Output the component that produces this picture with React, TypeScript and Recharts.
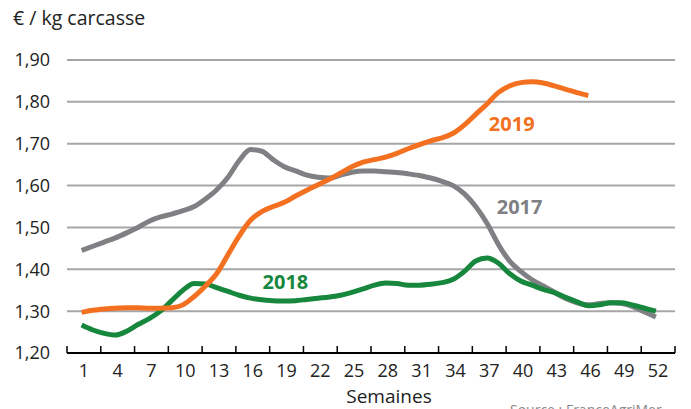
import React from 'react';
import { LineChart, Line, XAxis, YAxis, CartesianGrid, ReferenceDot } from 'recharts';

const weeks: number[] = Array.from({ length: 52 }, (_, i) => i + 1);

const y2017: number[] = [
  1.445, 1.455, 1.465, 1.475, 1.487, 1.5, 1.515, 1.525, 1.532, 1.54,
  1.55, 1.568, 1.59, 1.62, 1.66, 1.686, 1.682, 1.662, 1.645, 1.635,
  1.625, 1.62, 1.618, 1.625, 1.632, 1.635, 1.635, 1.633, 1.631, 1.628,
  1.624, 1.618, 1.61, 1.6, 1.58, 1.55, 1.51, 1.46, 1.42, 1.395,
  1.375, 1.36, 1.345, 1.33, 1.32, 1.315, 1.318, 1.32, 1.318, 1.31,
  1.298, 1.286,
];

const y2018: number[] = [
  1.267, 1.255, 1.247, 1.243, 1.252, 1.268, 1.282, 1.3, 1.325, 1.35,
  1.366, 1.365, 1.356, 1.347, 1.338, 1.331, 1.327, 1.325, 1.324, 1.325,
  1.328, 1.331, 1.334, 1.338, 1.345, 1.353, 1.362, 1.367, 1.366, 1.362,
  1.362, 1.364, 1.368, 1.376, 1.395, 1.42, 1.427, 1.415, 1.39, 1.372,
  1.362, 1.352, 1.344, 1.333, 1.322, 1.313, 1.315, 1.32, 1.32, 1.314,
  1.307, 1.3,
];

const y2019: number[] = [
  1.297, 1.302, 1.305, 1.307, 1.308, 1.308, 1.307, 1.307, 1.308, 1.315,
  1.335, 1.36, 1.39, 1.435, 1.48, 1.517, 1.538, 1.55, 1.56, 1.575,
  1.589, 1.602, 1.615, 1.63, 1.645, 1.656, 1.662, 1.668, 1.677, 1.688,
  1.698, 1.707, 1.714, 1.725, 1.745, 1.77, 1.795, 1.822, 1.838, 1.846,
  1.848, 1.845, 1.838, 1.83, 1.822, 1.815,
];

const yTicks: number[] = [1.2, 1.3, 1.4, 1.5, 1.6, 1.7, 1.8, 1.9];
const weekLabels: number[] = [1, 4, 7, 10, 13, 16, 19, 22, 25, 28, 31, 34, 37, 40, 43, 46, 49, 52];

const X_SHIFT = 1.3;
const X_MIN = -0.3;
const X_MAX = 53.7;
const tickMarks: number[] = [...weekLabels.map((w) => w - X_SHIFT), 52 - X_SHIFT + 3];

const data = weeks.map((w, i) => ({
  week: w,
  a2017: y2017[i],
  a2018: y2018[i],
  a2019: i < y2019.length ? y2019[i] : null,
}));

const FONT = '"Open Sans", sans-serif';
const C2017 = '#7F8083';
const C2018 = '#17873D';
const C2019 = '#F37021';

const W = 691;
const H = 409;
const PLOT_LEFT = 67;
const PLOT_RIGHT = 16;
const HALF = (W - PLOT_LEFT - PLOT_RIGHT) / (X_MAX - X_MIN) * 1.5;

const WeekTick = (props: any) => {
  const { x, y, payload } = props;
  const label = Math.round(payload.value + X_SHIFT);
  return (
    <g>
      <line x1={x} x2={x} y1={y - 7} y2={y} stroke="#000" strokeWidth={1.5} />
      {label <= 52 && (
        <text x={x + HALF} y={y + 24} textAnchor="middle" fontFamily={FONT} fontSize={18} fill="#222">
          {label}
        </text>
      )}
    </g>
  );
};

const fmt = (v: number) => v.toFixed(2).replace('.', ',');

export default function App() {
  return (
    <div style={{ position: 'absolute', left: 0, top: 0, width: W, height: H, background: '#fff', overflow: 'hidden' }}>
      <LineChart width={W} height={H} data={data} margin={{ top: 60, right: PLOT_RIGHT, bottom: 0, left: 0 }}>
        <CartesianGrid vertical={false} stroke="#A6A6A6" strokeWidth={2} />
        <XAxis
          dataKey="week"
          type="number"
          domain={[X_MIN, X_MAX]}
          ticks={tickMarks}
          interval={0}
          allowDataOverflow
          height={56}
          tickLine={false}
          tickSize={0}
          tickMargin={0}
          axisLine={{ stroke: '#000', strokeWidth: 2 }}
          tick={<WeekTick />}
        />
        <YAxis
          type="number"
          domain={[1.2, 1.9]}
          ticks={yTicks}
          interval={0}
          width={PLOT_LEFT}
          axisLine={false}
          tickLine={false}
          tickSize={0}
          tickMargin={17}
          tickFormatter={fmt}
          tick={{ fontFamily: FONT, fontSize: 18, fill: '#222' }}
        />
        <Line dataKey="a2017" type="monotone" stroke={C2017} strokeWidth={5} dot={false} isAnimationActive={false} />
        <Line dataKey="a2018" type="monotone" stroke={C2018} strokeWidth={5} dot={false} isAnimationActive={false} />
        <Line dataKey="a2019" type="monotone" stroke={C2019} strokeWidth={5} dot={false} isAnimationActive={false} connectNulls={false} />
        <ReferenceDot x={39.2} y={1.748} r={0} fill="none" stroke="none"
          label={{ value: '2019', position: 'center', fill: C2019, fontWeight: 700, fontSize: 20, fontFamily: FONT }} />
        <ReferenceDot x={39.9} y={1.548} r={0} fill="none" stroke="none"
          label={{ value: '2017', position: 'center', fill: C2017, fontWeight: 700, fontSize: 20, fontFamily: FONT }} />
        <ReferenceDot x={19.1} y={1.369} r={0} fill="none" stroke="none"
          label={{ value: '2018', position: 'center', fill: C2018, fontWeight: 700, fontSize: 20, fontFamily: FONT }} />
        <text x={13} y={25} fontFamily={FONT} fontSize={19.5} fill="#222">€ / kg carcasse</text>
        <text x={389} y={403} textAnchor="middle" fontFamily={FONT} fontSize={19} fill="#222">Semaines</text>
        <text x={510} y={415} fontFamily={FONT} fontSize={14} fill="#888">Source : FranceAgriMer</text>
      </LineChart>
    </div>
  );
}
